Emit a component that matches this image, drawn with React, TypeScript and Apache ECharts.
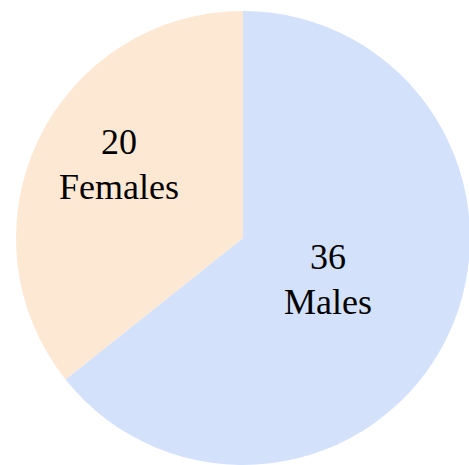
import React, { useEffect, useRef } from "react";
import * as echarts from "echarts";

const categories = ["Males", "Females"];
const counts = [36, 20];
const sliceColors = ["#d3e1fa", "#fde8d4"];
const labelShift = [
  [-20, -9],
  [-19, -23],
];

export default function App() {
  const ref = useRef<HTMLDivElement>(null);
  useEffect(() => {
    document.body.style.margin = "0";
    const chart = echarts.init(ref.current!, null, { renderer: "svg" });
    chart.setOption({
      animation: false,
      backgroundColor: "#ffffff",
      series: [
        {
          type: "pie",
          center: [243, 238],
          radius: 227,
          startAngle: 90,
          clockwise: true,
          silent: true,
          data: categories.map((name, i) => ({
            name,
            value: counts[i],
            itemStyle: { color: sliceColors[i] },
          })),
          label: {
            show: true,
            position: "inside",
            formatter: "{c}\n{b}",
            color: "#000000",
            fontFamily: "'Liberation Serif', 'DejaVu Serif', serif",
            fontSize: 36,
            lineHeight: 45,
          },
          labelLayout: (params: any) => ({
            dx: labelShift[params.dataIndex][0],
            dy: labelShift[params.dataIndex][1],
          }),
          labelLine: { show: false },
        },
      ],
    });
    return () => chart.dispose();
  }, []);
  return <div ref={ref} style={{ width: 469, height: 465 }} />;
}
